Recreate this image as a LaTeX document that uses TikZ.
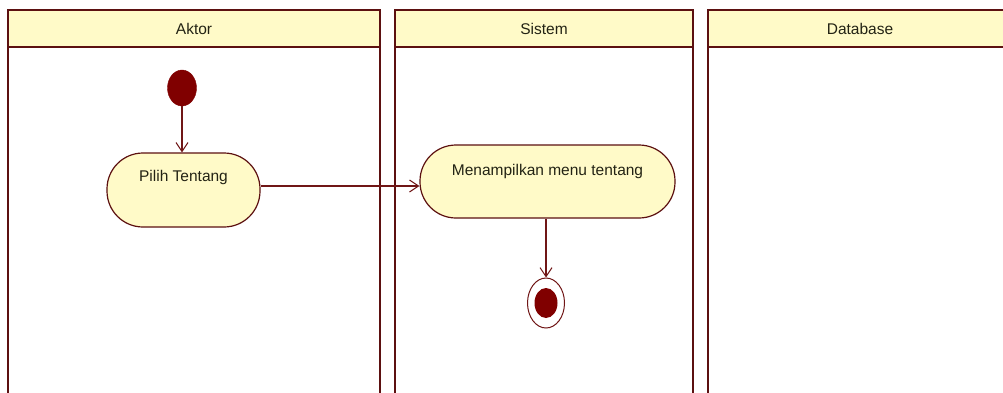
\documentclass[tikz,border=0pt]{standalone}
\usepackage{fontspec}
\setmainfont{Liberation Sans}
\definecolor{umlborder}{RGB}{92,16,16}
\definecolor{umlyellow}{RGB}{255,250,200}
\definecolor{umldot}{RGB}{128,0,0}
\definecolor{umlline}{RGB}{112,22,22}
\definecolor{umltext}{RGB}{35,35,20}
\usetikzlibrary{arrows.meta,positioning,shapes.geometric}

\begin{document}
\begin{tikzpicture}[x=1pt,y=-1pt,
  lane/.style={draw=umlborder, line width=2.8pt, fill=white},
  lanehead/.style={draw=umlborder, line width=2.8pt, fill=umlyellow, minimum height=37pt, inner sep=0pt, font=\fontsize{15.5}{18}\selectfont, text=umltext},
  activity/.style={rectangle, rounded corners=36pt, draw=umlborder, line width=1.2pt, fill=umlyellow, inner sep=0pt, font=\fontsize{15.5}{18}\selectfont, text=umltext},
  flow/.style={draw=umlline, line width=1.1pt, -{Straight Barb[length=9pt,width=12pt,line width=1pt]}}]
  \useasboundingbox (0,0) rectangle (1003,392);
  \clip (0,0) rectangle (1003,392);

  % Swimlanes
  \draw[lane] (8,10) rectangle (380,400);
  \draw[lane] (395,10) rectangle (693,400);
  \draw[lane] (708,10) rectangle (1012,400);
  \node[lanehead, minimum width=372pt] (aktor) at (194,28.5) {Aktor};
  \node[lanehead, minimum width=298pt] (sistem) at (544,28.5) {Sistem};
  \node[lanehead, minimum width=304pt] (database) at (860,28.5) {Database};

  % Start and end
  \node[ellipse, draw=umldot, fill=umldot, minimum width=29pt, minimum height=36pt, inner sep=0pt] (start) at (182,88) {};
  \node[ellipse, draw=umlline, line width=1pt, fill=white, minimum width=37pt, minimum height=50pt, inner sep=0pt] (end) at (546,303) {};
  \node[ellipse, fill=umldot, minimum width=23pt, minimum height=30pt, inner sep=0pt] (enddot) at (end) {};

  % Activities
  \node[activity, minimum width=153pt, text height=28pt, text depth=46pt] (pilih) at (183.5,190) {Pilih Tentang};
  \node[activity, minimum width=255pt, text height=30pt, text depth=43pt] (tampil) at (547.5,181.5) {Menampilkan menu tentang};

  % Flows
  \draw[flow] (start) -- (start |- pilih.north);
  \draw[flow] ([yshift=4pt]pilih.east) -- ([yshift=4pt]pilih.east -| tampil.west);
  \draw[flow] (tampil.south -| end) -- (end.north);
\end{tikzpicture}
\end{document}
